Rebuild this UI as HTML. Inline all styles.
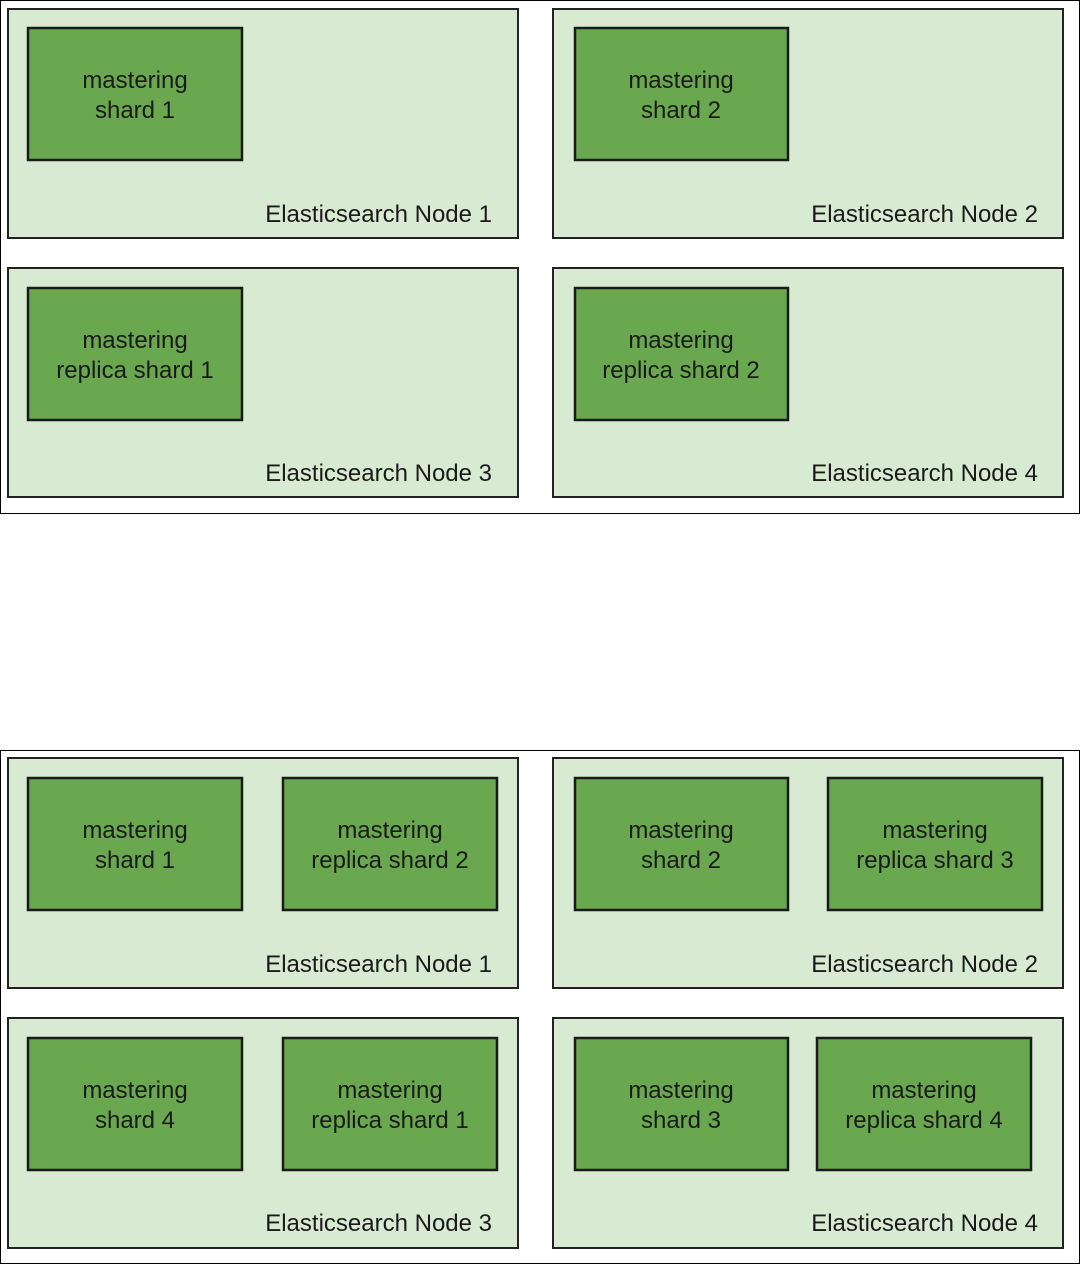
<!DOCTYPE html>
<html><head><style>body{margin:0;background:#fff}svg{display:block}text{font-family:"Liberation Sans",Arial,sans-serif;font-size:24px;fill:#1a1a1a}</style></head><body>
<svg width="1081" height="1264" viewBox="0 0 1081 1264">
<rect x="0.5" y="0.5" width="1079" height="513" fill="#fff" stroke="#000" stroke-width="1"/>
<rect x="0.5" y="750.5" width="1079" height="513" fill="#fff" stroke="#000" stroke-width="1"/>
<g stroke="#222" stroke-width="2" fill="#d9ead3">
<rect x="8" y="9" width="510" height="229"/><rect x="553" y="9" width="510" height="229"/>
<rect x="8" y="268" width="510" height="229"/><rect x="553" y="268" width="510" height="229"/>
<rect x="8" y="758" width="510" height="230"/><rect x="553" y="758" width="510" height="230"/>
<rect x="8" y="1018" width="510" height="230"/><rect x="553" y="1018" width="510" height="230"/>
</g>
<g stroke="#1a1a1a" stroke-width="2.5" fill="#6aa84f">
<rect x="28" y="28" width="214" height="132"/><rect x="575" y="28" width="213" height="132"/>
<rect x="28" y="288" width="214" height="132"/><rect x="575" y="288" width="213" height="132"/>
<rect x="28" y="778" width="214" height="132"/><rect x="283" y="778" width="214" height="132"/>
<rect x="575" y="778" width="213" height="132"/><rect x="828" y="778" width="214" height="132"/>
<rect x="28" y="1038" width="214" height="132"/><rect x="283" y="1038" width="214" height="132"/>
<rect x="575" y="1038" width="213" height="132"/><rect x="817" y="1038" width="214" height="132"/>
</g>
<g text-anchor="middle">
<text x="135" y="88">mastering</text><text x="135" y="118">shard 1</text>
<text x="681" y="88">mastering</text><text x="681" y="118">shard 2</text>
<text x="135" y="348">mastering</text><text x="135" y="378">replica shard 1</text>
<text x="681" y="348">mastering</text><text x="681" y="378">replica shard 2</text>
<text x="135" y="838">mastering</text><text x="135" y="868">shard 1</text>
<text x="390" y="838">mastering</text><text x="390" y="868">replica shard 2</text>
<text x="681" y="838">mastering</text><text x="681" y="868">shard 2</text>
<text x="935" y="838">mastering</text><text x="935" y="868">replica shard 3</text>
<text x="135" y="1098">mastering</text><text x="135" y="1128">shard 4</text>
<text x="390" y="1098">mastering</text><text x="390" y="1128">replica shard 1</text>
<text x="681" y="1098">mastering</text><text x="681" y="1128">shard 3</text>
<text x="924" y="1098">mastering</text><text x="924" y="1128">replica shard 4</text>
</g>
<g text-anchor="end">
<text x="492" y="222">Elasticsearch Node 1</text><text x="1038" y="222">Elasticsearch Node 2</text>
<text x="492" y="481">Elasticsearch Node 3</text><text x="1038" y="481">Elasticsearch Node 4</text>
<text x="492" y="972">Elasticsearch Node 1</text><text x="1038" y="972">Elasticsearch Node 2</text>
<text x="492" y="1231">Elasticsearch Node 3</text><text x="1038" y="1231">Elasticsearch Node 4</text>
</g>
</svg>
</body></html>
